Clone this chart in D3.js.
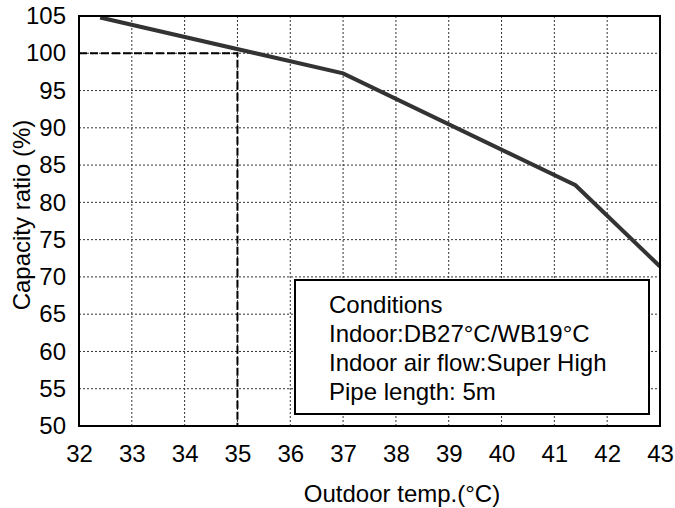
<!DOCTYPE html>
<html>
  <head>
    <style>
      body { margin: 0; background: #fff; }
      text { font-family: "Liberation Sans", Arial, sans-serif; fill: #000; }
    </style>
  </head>
  <body>
    <svg></svg>
    <script src="https://d3js.org/d3.v7.min.js"></script>
    <script>
      // curve data
      var temps = [32.4, 37, 41.4, 43];
      var ratios = [104.8, 97.3, 82.3, 71.4];
      var ratedTemp = 35, ratedRatio = 100;
      var xTicks = [32, 33, 34, 35, 36, 37, 38, 39, 40, 41, 42, 43];
      var yTicks = [50, 55, 60, 65, 70, 75, 80, 85, 90, 95, 100, 105];
      var notes = ["Conditions", "Indoor:DB27°C/WB19°C", "Indoor air flow:Super High", "Pipe length: 5m"];

      var svgWidth = 675, svgHeight = 508;
      var margin = { top: 16, right: 15, bottom: 82, left: 79 };
      var width = svgWidth - margin.left - margin.right;
      var height = svgHeight - margin.top - margin.bottom;

      var svg = d3.select("svg")
        .attr("width", svgWidth)
        .attr("height", svgHeight);

      var g = svg.append("g")
        .attr("transform", "translate(" + margin.left + "," + margin.top + ")");

      var x = d3.scaleLinear().domain([32, 43]).range([0, width]);
      var y = d3.scaleLinear().domain([50, 105]).range([height, 0]);

      // dotted grid
      g.append("g").selectAll("line")
        .data(xTicks.slice(1, -1))
        .join("line")
        .attr("x1", d => x(d)).attr("x2", d => x(d))
        .attr("y1", 0).attr("y2", height)
        .attr("stroke", "#333").attr("stroke-width", 1)
        .attr("stroke-dasharray", "2,2");

      g.append("g").selectAll("line")
        .data(yTicks.slice(1, -1))
        .join("line")
        .attr("x1", 0).attr("x2", width)
        .attr("y1", d => y(d)).attr("y2", d => y(d))
        .attr("stroke", "#333").attr("stroke-width", 1)
        .attr("stroke-dasharray", "2,2");

      // rated point guide
      g.append("path")
        .attr("d", d3.line()([[x(32), y(ratedRatio)], [x(ratedTemp), y(ratedRatio)], [x(ratedTemp), y(50)]]))
        .attr("fill", "none")
        .attr("stroke", "#000")
        .attr("stroke-width", 2)
        .attr("stroke-dasharray", "8,3");

      // axes, labels only
      var xAxis = g.append("g")
        .attr("transform", "translate(0," + height + ")")
        .call(d3.axisBottom(x).tickValues(xTicks).tickSize(0).tickPadding(19));
      var yAxis = g.append("g")
        .call(d3.axisLeft(y).tickValues(yTicks).tickSize(0).tickPadding(13));
      [xAxis, yAxis].forEach(a => {
        a.select(".domain").remove();
        a.selectAll("text").attr("font-size", 24).attr("font-family", "Liberation Sans").attr("fill", "#000");
      });

      // curve
      var line = d3.line()
        .x(d => x(d[0]))
        .y(d => y(d[1]));

      g.append("path")
        .attr("d", line(d3.zip(temps, ratios)))
        .attr("fill", "none")
        .attr("stroke", "#333")
        .attr("stroke-width", 4);

      // frame
      g.append("rect")
        .attr("width", width).attr("height", height)
        .attr("fill", "none").attr("stroke", "#000").attr("stroke-width", 2);

      // conditions box
      var box = g.append("g").attr("transform", "translate(" + (295 - margin.left) + "," + (280 - margin.top) + ")");
      box.append("rect")
        .attr("width", 354).attr("height", 134)
        .attr("fill", "#fff").attr("stroke", "#000").attr("stroke-width", 2);
      box.selectAll("text")
        .data(notes)
        .join("text")
        .attr("x", 34)
        .attr("y", (d, i) => 33 + i * 29)
        .attr("font-size", 24)
        .text(d => d);

      // titles
      svg.append("text")
        .attr("x", 402).attr("y", 502)
        .attr("text-anchor", "middle")
        .attr("font-size", 24)
        .text("Outdoor temp.(°C)");

      svg.append("text")
        .attr("transform", "translate(30," + (margin.top + height / 2 - 6) + ") rotate(-90)")
        .attr("text-anchor", "middle")
        .attr("font-size", 24)
        .text("Capacity ratio (%)");
    </script>
  </body>
</html>
